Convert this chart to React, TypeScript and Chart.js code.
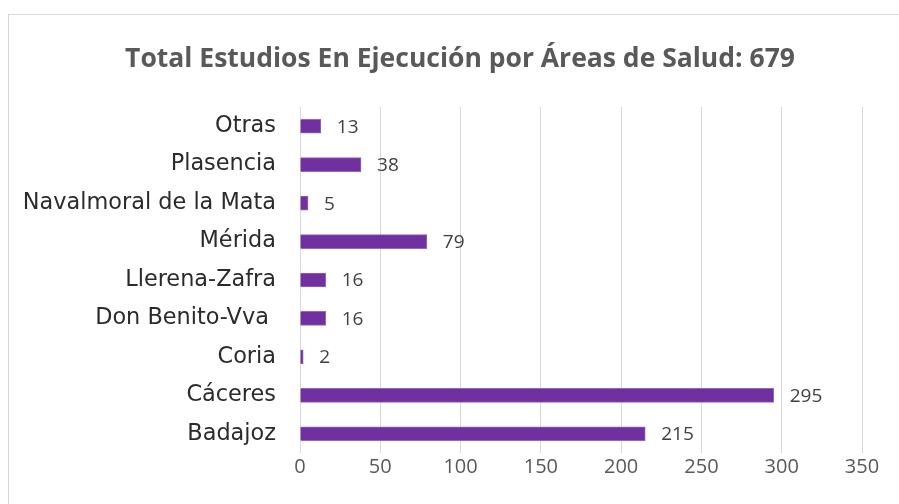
import React, { useEffect, useRef } from "react";
import { Chart, registerables } from "chart.js";

Chart.register(...registerables);

const categories = [
  "Otras",
  "Plasencia",
  "Navalmoral de la Mata",
  "Mérida",
  "Llerena-Zafra",
  "Don Benito-Vva ",
  "Coria",
  "Cáceres",
  "Badajoz",
];
const values = [13, 38, 5, 79, 16, 16, 2, 295, 215];
const xTicks = [0, 50, 100, 150, 200, 250, 300, 350];
const titleText = "Total Estudios En Ejecución por Áreas de Salud: 679";

const valueLabels = {
  id: "valueLabels",
  afterDatasetsDraw(chart: any) {
    const ctx = chart.ctx;
    const meta = chart.getDatasetMeta(0);
    ctx.save();
    ctx.font = "19px 'Open Sans'";
    ctx.fillStyle = "#404040";
    ctx.textAlign = "left";
    ctx.textBaseline = "middle";
    meta.data.forEach((bar: any, i: number) => {
      ctx.fillText(String(values[i]), bar.x + 16, bar.y + 1);
    });
    ctx.restore();
  },
};

const titlePlugin = {
  id: "customTitle",
  afterDraw(chart: any) {
    const ctx = chart.ctx;
    ctx.save();
    ctx.font = "bold 26.5px 'Open Sans'";
    ctx.fillStyle = "#595959";
    ctx.textAlign = "center";
    ctx.textBaseline = "middle";
    ctx.fillText(titleText, 460, 59);
    ctx.restore();
  },
};

export default function App() {
  const ref = useRef<HTMLCanvasElement | null>(null);
  useEffect(() => {
    if (!ref.current) return;
    const chart = new Chart(ref.current, {
      type: "bar",
      data: {
        labels: categories,
        datasets: [
          {
            data: values,
            backgroundColor: "#7030A0",
            borderColor: "#9566bd",
            borderWidth: 1,
            barThickness: 14,
          },
        ],
      },
      options: {
        indexAxis: "y",
        responsive: false,
        animation: false,
        layout: { padding: { left: 0, right: 37, top: 107, bottom: 23 } },
        plugins: {
          legend: { display: false },
          tooltip: { enabled: false },
          title: { display: false },
        },
        scales: {
          x: {
            type: "linear",
            min: 0,
            max: 350,
            afterBuildTicks: (axis: any) => {
              axis.ticks = xTicks.map((v) => ({ value: v }));
            },
            grid: { color: "#d9d9d9", lineWidth: 1, drawTicks: false },
            border: { display: false },
            ticks: {
              color: "#595959",
              font: { family: "Open Sans", size: 20, lineHeight: 1.2 },
              padding: 2,
            },
          },
          y: {
            type: "category",
            afterFit: (axis: any) => {
              axis.width = 300;
            },
            grid: { display: false, drawTicks: false },
            border: { display: false },
            ticks: {
              color: "#2b2b2b",
              font: { family: "DejaVu Sans", size: 22.4, lineHeight: 1.2 },
              padding: 24,
            },
          },
        },
      },
      plugins: [valueLabels, titlePlugin],
    } as any);
    return () => chart.destroy();
  }, []);
  return (
    <>
      <div
        style={{
          position: "fixed",
          left: 8,
          top: 14,
          width: 2000,
          height: 2000,
          border: "1px solid #d9d9d9",
          boxSizing: "border-box",
          background: "#fff",
        }}
      />
      <canvas
        ref={ref}
        width={899}
        height={504}
        style={{ position: "fixed", left: 0, top: 0, width: 899, height: 504, display: "block" }}
      />
    </>
  );
}
